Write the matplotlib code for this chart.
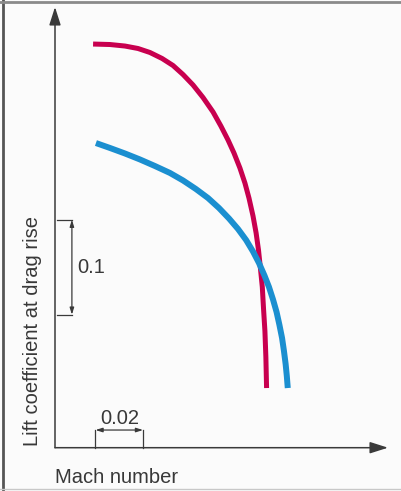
import matplotlib
matplotlib.use("Agg")
import matplotlib.pyplot as plt
from matplotlib.lines import Line2D

plt.rcParams['font.family'] = ['Liberation Sans', 'DejaVu Sans']

# ---- data ----
red_mach = [0.6790, 0.6861, 0.6924, 0.6979, 0.7029, 0.7080, 0.7126, 0.7168, 0.7210,
            0.7252, 0.7294, 0.7327, 0.7357, 0.7382, 0.7407, 0.7428, 0.7445, 0.7462,
            0.7475, 0.7485, 0.7493, 0.7501, 0.7506, 0.7512, 0.7516, 0.7519]
red_cl = [0.4249, 0.4244, 0.4228, 0.4202, 0.4160, 0.4097, 0.4023, 0.3928, 0.3818,
          0.3686, 0.3534, 0.3386, 0.3239, 0.3102, 0.2944, 0.2786, 0.2628, 0.2439,
          0.2260, 0.2081, 0.1892, 0.1692, 0.1471, 0.1228, 0.0955, 0.0628]

blue_mach = [0.6802, 0.6861, 0.6924, 0.6987, 0.7050, 0.7113, 0.7168, 0.7222, 0.7273,
             0.7319, 0.7361, 0.7399, 0.7433, 0.7462, 0.7487, 0.7510, 0.7529, 0.7546,
             0.7561, 0.7573, 0.7584, 0.7592, 0.7599, 0.7604, 0.7608]
blue_cl = [0.3207, 0.3155, 0.3097, 0.3034, 0.2965, 0.2892, 0.2813, 0.2723, 0.2628,
           0.2523, 0.2413, 0.2302, 0.2186, 0.2065, 0.1944, 0.1813, 0.1692, 0.1560,
           0.1428, 0.1292, 0.1155, 0.1018, 0.0881, 0.0755, 0.0628]

scale_cl = [0.14, 0.24]      # vertical scale bar (0.1)
scale_mach = [0.68, 0.70]    # horizontal scale bar (0.02)
scale_cl_label = "0.1"
scale_mach_label = "0.02"
xlabel = "Mach number"
ylabel = "Lift coefficient at drag rise"

W, H = 402, 491
fig = plt.figure(figsize=(W / 100, H / 100), dpi=100, facecolor='#fbfbfb')

ax = fig.add_axes([55 / W, 1 - 447.7 / H, 333 / W, 440.7 / H])
ax.set_facecolor('none')
ax.set_xlim(0.663, 0.663 + 333 / 2380)
ax.set_ylim(0, 440.7 / 950)
for s in ax.spines.values():
    s.set_visible(False)
ax.set_xticks([])
ax.set_yticks([])

axis_col = '#3a3a3a'
txt_col = '#383838'
fs = 14.5
# axes with arrows
for tip in [(0, 1), (1, 0)]:
    ax.annotate('', xy=tip, xytext=(0, 0), xycoords='axes fraction',
                arrowprops=dict(arrowstyle='-|>,head_length=1.1,head_width=0.35',
                                mutation_scale=10, lw=1.1, color=axis_col,
                                shrinkA=0, shrinkB=0))

# curves
ax.plot(red_mach, red_cl, color='#c8004f', lw=3.6, solid_capstyle='butt',
        solid_joinstyle='round', clip_on=False)
ax.plot(blue_mach, blue_cl, color='#1b8fd0', lw=4.3, solid_capstyle='butt',
        solid_joinstyle='round', clip_on=False)

# vertical scale bar
bx = 0.6701
bx0 = 0.6638
for v in scale_cl:
    ax.plot([bx0, bx], [v, v], color=axis_col, lw=0.9, clip_on=False)
ax.annotate('', xy=(bx, scale_cl[1]), xytext=(bx, scale_cl[0]),
            arrowprops=dict(arrowstyle='<|-|>,head_length=0.8,head_width=0.25',
                            mutation_scale=5, lw=0.9, color=axis_col,
                            shrinkA=0, shrinkB=0))
ax.text(0.6722, (scale_cl[0] + scale_cl[1]) / 2, scale_cl_label, ha='left',
        va='center', fontsize=fs, color=txt_col)

# horizontal scale bar
by = 0.0186
for v in scale_mach:
    ax.plot([v, v], [0, by], color=axis_col, lw=0.9, clip_on=False)
ax.annotate('', xy=(scale_mach[1], by), xytext=(scale_mach[0], by),
            arrowprops=dict(arrowstyle='<|-|>,head_length=0.8,head_width=0.25',
                            mutation_scale=5, lw=0.9, color=axis_col,
                            shrinkA=0, shrinkB=0))
ax.text((scale_mach[0] + scale_mach[1]) / 2, 0.0249, scale_mach_label, ha='center',
        va='baseline', fontsize=fs, color=txt_col)

# labels
fig.text(55 / W, 1 - 483 / H, xlabel, ha='left', va='baseline', fontsize=fs,
         color=txt_col)
fig.text(33 / W, 1 - 330.5 / H, ylabel, ha='center', va='center', rotation=90,
         fontsize=fs, color=txt_col)

# frame borders
fig.add_artist(Line2D([3 / W, 3 / W], [0, 1], transform=fig.transFigure,
                      color='#555555', lw=2.0))
fig.add_artist(Line2D([0, 1], [1 - 1.5 / H, 1 - 1.5 / H], transform=fig.transFigure,
                      color='#8a8a8a', lw=2.0))
fig.add_artist(Line2D([0, 1], [1 - 489 / H, 1 - 489 / H], transform=fig.transFigure,
                      color='#c8c8c8', lw=1.0))

fig.savefig('out.png', dpi=100, facecolor=fig.get_facecolor())
